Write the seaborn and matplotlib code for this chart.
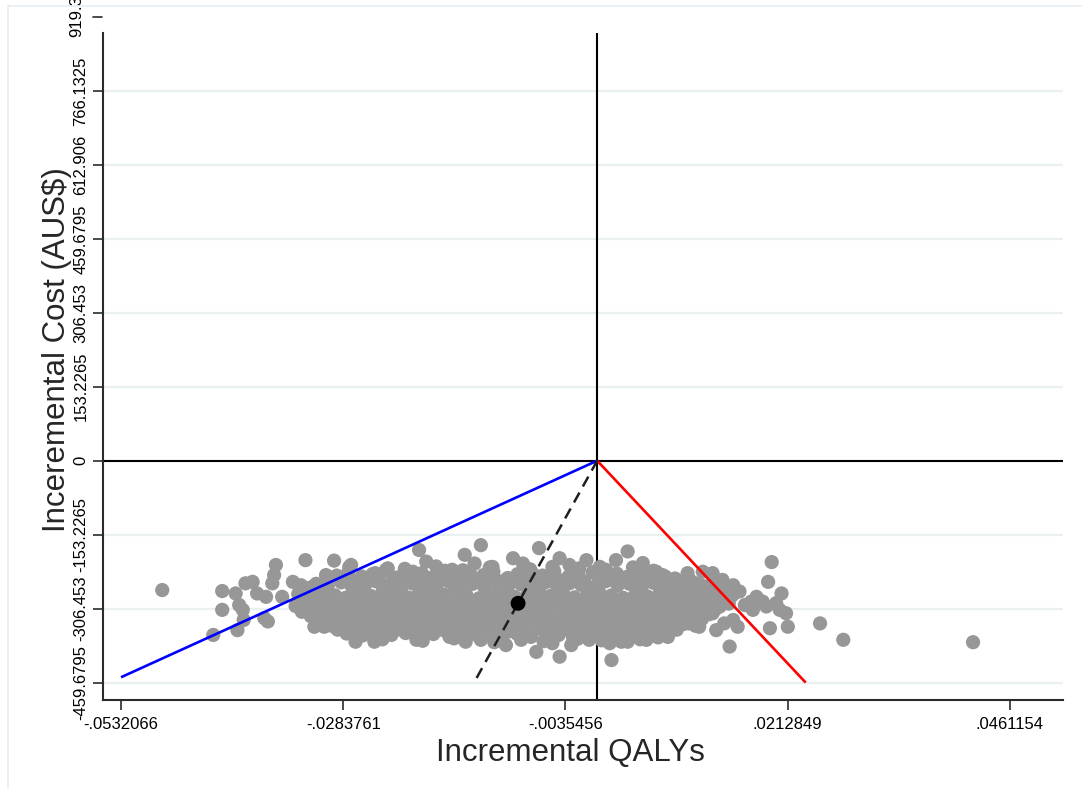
import matplotlib
matplotlib.use("Agg")
import matplotlib.pyplot as plt
from matplotlib.lines import Line2D
import pandas as pd
import seaborn as sns

# ---- bootstrap replicates: incremental QALYs / incremental cost (AUS$) ----
# sparse left tail
qaly_left = [-0.0486, -0.0419, -0.0419, -0.0429, -0.0404, -0.0400, -0.0402, -0.0393, -0.0385, -0.0380,
             -0.0359, -0.0361, -0.0363, -0.0370, -0.0372, -0.0368, -0.0395, -0.0396, -0.0352, -0.0340,
             -0.0326, -0.0331, -0.0318, -0.0324, -0.0316, -0.0313, -0.0330]
cost_left = [-268, -270, -309, -361, -275, -299, -351, -254, -251, -275,
             -216, -237, -254, -282, -326, -333, -330, -309, -282, -251,
             -206, -258, -261, -309, -344, -282, -313]

# upper edge of the cloud
qaly_top = [-0.0294, -0.0303, -0.0277, -0.0275, -0.0236, -0.0248, -0.0234, -0.0199, -0.0191, -0.0130,
            -0.0148, -0.0206, -0.0162, -0.0137, -0.0117, -0.0065, -0.0094, -0.0083, -0.0042, -0.0031,
            -0.0012, 0.0021, 0.0034, 0.0051, 0.0066, 0.0073, 0.0086, 0.0003]
cost_top = [-207, -237, -220, -216, -226, -233, -223, -185, -209, -175,
            -195, -230, -226, -213, -220, -181, -202, -213, -202, -216,
            -206, -206, -188, -212, -230, -237, -257, -220]

# lower edge of the cloud
qaly_bottom = [-0.0270, -0.0249, -0.0234, -0.0202, -0.0217, -0.0184, -0.0165, -0.0147, -0.0130, -0.0305,
               -0.0288, -0.0255, -0.0068, -0.0042, 0.0016, -0.0102, -0.0050, -0.0029, -0.0009, 0.0014,
               0.0034, 0.0055, 0.0079, 0.0070]
cost_bottom = [-375, -375, -358, -371, -351, -351, -365, -375, -371, -344,
               -344, -351, -396, -406, -413, -382, -378, -382, -371, -378,
               -375, -371, -365, -351]

# right tail
qaly_right = [0.0195, 0.0191, 0.0206, 0.0159, 0.0178, 0.0185, 0.0211, 0.0213, 0.0193, 0.0249,
              0.0275, 0.0148, 0.0157, 0.0133, 0.0142, 0.0165, 0.0172, 0.0101, 0.0118, 0.0129,
              0.0140, 0.0144, 0.0128, 0.0103, 0.0114, 0.0200, 0.0204, 0.0189, 0.0105, 0.0103,
              0.0137, 0.0129, 0.0152, 0.0174, 0.0420]
cost_right = [-210, -251, -275, -271, -282, -292, -316, -344, -347, -337,
              -371, -385, -344, -351, -337, -299, -292, -233, -230, -233,
              -247, -261, -254, -337, -344, -295, -309, -302, -268, -316,
              -302, -316, -330, -309, -376]

# dense core of the cloud, band by band from top to bottom
qaly_core_a = [-0.0291, -0.0278, -0.0263, -0.0251, -0.0235, -0.0224, -0.0208, -0.0196, -0.0181, -0.0170,
               -0.0154, -0.0142, -0.0127, -0.0116, -0.0100, -0.0089, -0.0073, -0.0061, -0.0048, -0.0032,
               -0.0021, -0.0005, 0.0006, 0.0022, 0.0033, 0.0049, 0.0060, 0.0076, 0.0087, 0.0103]
cost_core_a = [-238, -231, -240, -235, -229, -242, -236, -233, -239, -228,
               -241, -234, -237, -230, -243, -235, -232, -238, -229, -240,
               -236, -231, -239, -234, -241, -233, -237, -240, -244, -246]

qaly_core_ab = [-0.0284, -0.0271, -0.0256, -0.0244, -0.0228, -0.0217, -0.0201, -0.0189, -0.0174, -0.0163,
                -0.0147, -0.0135, -0.0120, -0.0109, -0.0093, -0.0082, -0.0066, -0.0054, -0.0041, -0.0025,
                -0.0014, 0.0002, 0.0013, 0.0029, 0.0040, 0.0056, 0.0067, 0.0083, 0.0094, 0.0110]
cost_core_ab = [-246, -249, -244, -247, -250, -245, -248, -243, -247, -251,
                -245, -248, -246, -250, -244, -247, -249, -245, -248, -246,
                -251, -244, -247, -249, -245, -248, -246, -250, -252, -254]

qaly_core_b = [-0.0328, -0.0314, -0.0301, -0.0286, -0.0274, -0.0259, -0.0247, -0.0233, -0.0219, -0.0207,
               -0.0192, -0.0180, -0.0165, -0.0153, -0.0139, -0.0126, -0.0111, -0.0099, -0.0085, -0.0072,
               -0.0058, -0.0045, -0.0031, -0.0018, -0.0004, 0.0009, 0.0023, 0.0036, 0.0050, 0.0063,
               0.0077, 0.0090, 0.0104, 0.0117, 0.0131, 0.0152]
cost_core_b = [-262, -255, -259, -252, -261, -256, -250, -258, -263, -254,
               -257, -260, -251, -259, -255, -262, -253, -258, -256, -261,
               -252, -259, -254, -257, -263, -250, -258, -255, -260, -253,
               -257, -262, -256, -259, -262, -258]

qaly_core_c = [-0.0334, -0.0320, -0.0308, -0.0293, -0.0281, -0.0266, -0.0253, -0.0240, -0.0226, -0.0213,
               -0.0199, -0.0186, -0.0172, -0.0159, -0.0146, -0.0132, -0.0119, -0.0105, -0.0092, -0.0078,
               -0.0065, -0.0052, -0.0038, -0.0025, -0.0011, 0.0002, 0.0016, 0.0029, 0.0043, 0.0056,
               0.0070, 0.0083, 0.0097, 0.0110, 0.0124, 0.0137, 0.0151]
cost_core_c = [-276, -281, -273, -279, -284, -275, -280, -272, -278, -283,
               -274, -281, -277, -270, -279, -285, -276, -273, -282, -278,
               -271, -280, -275, -283, -277, -272, -279, -284, -276, -281,
               -273, -278, -282, -275, -280, -286, -279]

qaly_core_cd = [-0.0330, -0.0316, -0.0304, -0.0290, -0.0277, -0.0264, -0.0250, -0.0237, -0.0223, -0.0210,
                -0.0197, -0.0183, -0.0170, -0.0156, -0.0143, -0.0130, -0.0116, -0.0103, -0.0089, -0.0076,
                -0.0062, -0.0049, -0.0035, -0.0022, -0.0008, 0.0005, 0.0019, 0.0032, 0.0046, 0.0059,
                0.0073, 0.0086, 0.0100, 0.0113, 0.0127, 0.0140]
cost_core_cd = [-288, -291, -285, -290, -287, -292, -286, -289, -293, -284,
                -290, -287, -291, -286, -289, -292, -285, -288, -290, -287,
                -293, -286, -289, -291, -284, -288, -290, -287, -292, -285,
                -289, -291, -286, -288, -290, -287]

qaly_core_d = [-0.0337, -0.0323, -0.0311, -0.0297, -0.0284, -0.0271, -0.0257, -0.0244, -0.0230, -0.0217,
               -0.0204, -0.0190, -0.0177, -0.0163, -0.0150, -0.0137, -0.0123, -0.0110, -0.0096, -0.0083,
               -0.0069, -0.0056, -0.0042, -0.0029, -0.0015, -0.0002, 0.0012, 0.0025, 0.0039, 0.0052,
               0.0066, 0.0079, 0.0093, 0.0106, 0.0120, 0.0133, 0.0147]
cost_core_d = [-301, -296, -303, -298, -294, -305, -299, -302, -295, -300,
               -306, -297, -293, -301, -298, -304, -296, -300, -303, -294,
               -299, -305, -297, -302, -295, -300, -298, -304, -296, -301,
               -293, -299, -303, -297, -300, -305, -296]

qaly_core_de = [-0.0313, -0.0300, -0.0285, -0.0273, -0.0258, -0.0246, -0.0231, -0.0219, -0.0204, -0.0192,
                -0.0177, -0.0165, -0.0150, -0.0138, -0.0123, -0.0111, -0.0096, -0.0084, -0.0069, -0.0057,
                -0.0042, -0.0030, -0.0015, -0.0003, 0.0012, 0.0024, 0.0039, 0.0051, 0.0066, 0.0078,
                0.0093, 0.0105, 0.0120, 0.0132]
cost_core_de = [-309, -312, -306, -310, -308, -313, -307, -311, -305, -309,
                -312, -308, -310, -306, -313, -309, -307, -311, -308, -312,
                -306, -310, -309, -313, -307, -311, -308, -305, -310, -312,
                -309, -307, -311, -308]

qaly_core_e = [-0.0320, -0.0307, -0.0292, -0.0280, -0.0265, -0.0253, -0.0238, -0.0226, -0.0211, -0.0199,
               -0.0184, -0.0172, -0.0157, -0.0145, -0.0130, -0.0118, -0.0103, -0.0091, -0.0076, -0.0064,
               -0.0049, -0.0037, -0.0022, -0.0010, 0.0005, 0.0017, 0.0032, 0.0044, 0.0059, 0.0071,
               0.0086, 0.0098, 0.0113, 0.0125]
cost_core_e = [-322, -316, -325, -319, -314, -323, -318, -326, -320, -315,
               -324, -321, -317, -327, -319, -313, -322, -325, -316, -320,
               -328, -318, -323, -315, -321, -326, -317, -324, -319, -314,
               -322, -327, -320, -318]

qaly_core_ef = [-0.0301, -0.0288, -0.0274, -0.0261, -0.0247, -0.0234, -0.0220, -0.0207, -0.0193, -0.0180,
                -0.0166, -0.0153, -0.0139, -0.0126, -0.0112, -0.0099, -0.0085, -0.0072, -0.0058, -0.0045,
                -0.0031, -0.0018, -0.0004, 0.0009, 0.0023, 0.0036, 0.0050, 0.0063, 0.0077, 0.0090,
                0.0104, 0.0117]
cost_core_ef = [-330, -327, -333, -329, -331, -326, -332, -328, -334, -330,
                -327, -331, -329, -333, -328, -330, -332, -326, -331, -329,
                -334, -327, -330, -332, -328, -331, -329, -333, -327, -330,
                -332, -328]

qaly_core_f = [-0.0308, -0.0295, -0.0281, -0.0268, -0.0254, -0.0241, -0.0227, -0.0214, -0.0200, -0.0187,
               -0.0173, -0.0160, -0.0146, -0.0133, -0.0119, -0.0106, -0.0092, -0.0079, -0.0065, -0.0052,
               -0.0038, -0.0025, -0.0011, 0.0002, 0.0016, 0.0029, 0.0043, 0.0056, 0.0070, 0.0083,
               0.0097, 0.0110]
cost_core_f = [-338, -343, -336, -345, -340, -334, -342, -347, -339, -344,
               -337, -341, -346, -335, -343, -340, -348, -338, -342, -336,
               -345, -341, -349, -337, -343, -339, -346, -340, -335, -344,
               -338, -342]

qaly_core_fg = [-0.0290, -0.0274, -0.0255, -0.0239, -0.0222, -0.0206, -0.0191, -0.0175, -0.0160, -0.0144,
                -0.0128, -0.0113, -0.0097, -0.0082, -0.0066, -0.0050, -0.0035, -0.0019, -0.0004, 0.0011,
                0.0027, 0.0042, 0.0058, 0.0073, 0.0089]
cost_core_fg = [-350, -352, -348, -351, -349, -353, -347, -350, -352, -348,
                -351, -349, -353, -350, -347, -352, -349, -351, -348, -350,
                -353, -349, -351, -348, -350]

qaly_core_g = [-0.0280, -0.0262, -0.0247, -0.0230, -0.0214, -0.0199, -0.0183, -0.0167, -0.0152, -0.0136,
               -0.0121, -0.0105, -0.0090, -0.0074, -0.0058, -0.0043, -0.0027, -0.0012, 0.0004, 0.0019,
               0.0035, 0.0050, 0.0066, 0.0081]
cost_core_g = [-358, -362, -355, -361, -357, -364, -359, -356, -363, -360,
               -354, -362, -358, -365, -357, -361, -366, -359, -363, -356,
               -362, -358, -360, -355]

qaly_core_h = [-0.0215, -0.0180, -0.0150, -0.0120, -0.0075, -0.0050, -0.0020, 0.0010, 0.0040, 0.0063]
cost_core_h = [-224, -219, -227, -221, -225, -220, -223, -226, -221, -228]

qaly_core_i = [-0.0240, -0.0195, -0.0160, -0.0115, -0.0085, -0.0060, -0.0022, 0.0005, 0.0027, 0.0048, 0.0068]
cost_core_i = [-370, -373, -368, -376, -371, -374, -369, -372, -375, -370, -366]

# point estimate (mean incremental QALY, mean incremental cost)
mean_qaly = [-0.00884]
mean_cost = [-295.4]

# rays from the origin: lower bound, upper bound and the ICER
lower_ray_qaly = [0.0, -0.0532066]
lower_ray_cost = [0.0, -448.6]
upper_ray_qaly = [0.0, 0.02330]
upper_ray_cost = [0.0, -459.6795]
icer_ray_qaly = [0.0, -0.01376]
icer_ray_cost = [0.0, -459.6795]

# axis ticks
x_ticks = [-0.0532066, -0.0283761, -0.0035456, 0.0212849, 0.0461154]
x_tick_labels = ["-.0532066", "-.0283761", "-.0035456", ".0212849", ".0461154"]
y_ticks = [-459.6795, -306.453, -153.2265, 0, 153.2265, 306.453, 459.6795, 612.906, 766.1325]
y_tick_labels = ["-459.6795", "-306.453", "-153.2265", "0", "153.2265", "306.453",
                 "459.6795", "612.906", "766.1325"]
y_top_tick = 919.359
y_top_label = "919.359"

x_title = "Incremental QALYs"
y_title = "Inceremental Cost (AUS$)"

# ---- assemble ----
qaly_parts = [qaly_left, qaly_top, qaly_bottom, qaly_right, qaly_core_a, qaly_core_ab, qaly_core_b,
              qaly_core_c, qaly_core_cd, qaly_core_d, qaly_core_de, qaly_core_e, qaly_core_ef,
              qaly_core_f, qaly_core_fg, qaly_core_g, qaly_core_h, qaly_core_i]
cost_parts = [cost_left, cost_top, cost_bottom, cost_right, cost_core_a, cost_core_ab, cost_core_b,
              cost_core_c, cost_core_cd, cost_core_d, cost_core_de, cost_core_e, cost_core_ef,
              cost_core_f, cost_core_fg, cost_core_g, cost_core_h, cost_core_i]
reps = pd.DataFrame({"qaly": sum(qaly_parts, []), "cost": sum(cost_parts, [])})
mean_df = pd.DataFrame({"qaly": mean_qaly, "cost": mean_cost})

sns.set_theme(style="white")
plt.rcParams["font.family"] = ["Liberation Sans", "DejaVu Sans"]

W, H = 1082, 789
fig = plt.figure(figsize=(W / 100, H / 100), dpi=100)
fig.patch.set_facecolor("white")
ax = fig.add_axes([103 / W, 1 - 700 / H, 960 / W, 667 / H])
ax.set_facecolor("white")

ax.set_xlim(-0.05522, 0.05205)
ax.set_ylim(-495.7, 885.9)

ax.set_yticks(y_ticks)
ax.set_yticklabels(y_tick_labels)
ax.set_xticks(x_ticks)
ax.set_xticklabels(x_tick_labels)

ax.grid(axis="y", color="#E8F0F2", linewidth=1.6)
ax.grid(axis="x", visible=False)
ax.set_axisbelow(True)

for side in ("top", "right"):
    ax.spines[side].set_visible(False)
for side in ("left", "bottom"):
    ax.spines[side].set_color("#2b2b2b")
    ax.spines[side].set_linewidth(1.5)

ax.tick_params(axis="both", direction="out", length=7.5, width=1.2, color="#2b2b2b",
               labelsize=12, labelcolor="black", bottom=True, left=True)
ax.tick_params(axis="x", pad=5)
ax.tick_params(axis="y", pad=3, labelrotation=90)
for lab in ax.get_yticklabels():
    lab.set_verticalalignment("center")

# quadrant axes through the origin
ax.axhline(0, color="black", linewidth=1.5, zorder=1)
ax.axvline(0, color="black", linewidth=1.5, zorder=1)

# bootstrap cloud
sns.scatterplot(data=reps, x="qaly", y="cost", ax=ax, color="#979797", s=105,
                edgecolor="none", linewidth=0, alpha=1, zorder=2, legend=False)

# rays
ax.plot(lower_ray_qaly, lower_ray_cost, color="#0000FF", linewidth=1.9, zorder=3, solid_capstyle="butt")
ax.plot(upper_ray_qaly, upper_ray_cost, color="#FF0000", linewidth=1.9, zorder=3, solid_capstyle="butt")
ax.plot(icer_ray_qaly, icer_ray_cost, color="#1e1e1e", linewidth=1.8, zorder=3,
        linestyle=(0, (4.5, 2.8)))

# point estimate
sns.scatterplot(data=mean_df, x="qaly", y="cost", ax=ax, color="black", s=115,
                edgecolor="none", linewidth=0, zorder=4, legend=False)

# top tick sits above the plotted range; its label is pushed up against the top edge
ytr = ax.get_yaxis_transform()
ax.add_line(Line2D([-10.5 / 960, -0.6 / 960], [y_top_tick, y_top_tick], transform=ytr,
                   color="#2b2b2b", linewidth=1.2, clip_on=False))
ax.text(-26 / 960, 940, y_top_label, transform=ytr, rotation=90, ha="center",
        va="center", fontsize=12, color="black", clip_on=False)

ax.set_xlabel(x_title, fontsize=22.5, va="baseline")
ax.set_ylabel(y_title, fontsize=22.5, va="baseline", ha="center", rotation=90,
              rotation_mode="anchor")
ax.xaxis.set_label_coords(0.4865, -0.0915)
ax.yaxis.set_label_coords(-0.0395, 0.525)

# light outer frame of the graph region
frame_col = "#E6EEF1"
fig.add_artist(Line2D([8 / W, 8 / W], [0, 1 - 6 / H], transform=fig.transFigure,
                      color=frame_col, linewidth=1.2))
fig.add_artist(Line2D([8 / W, 1], [1 - 6 / H, 1 - 6 / H], transform=fig.transFigure,
                      color=frame_col, linewidth=1.2))

fig.savefig("out.png", dpi=100, facecolor="white")
